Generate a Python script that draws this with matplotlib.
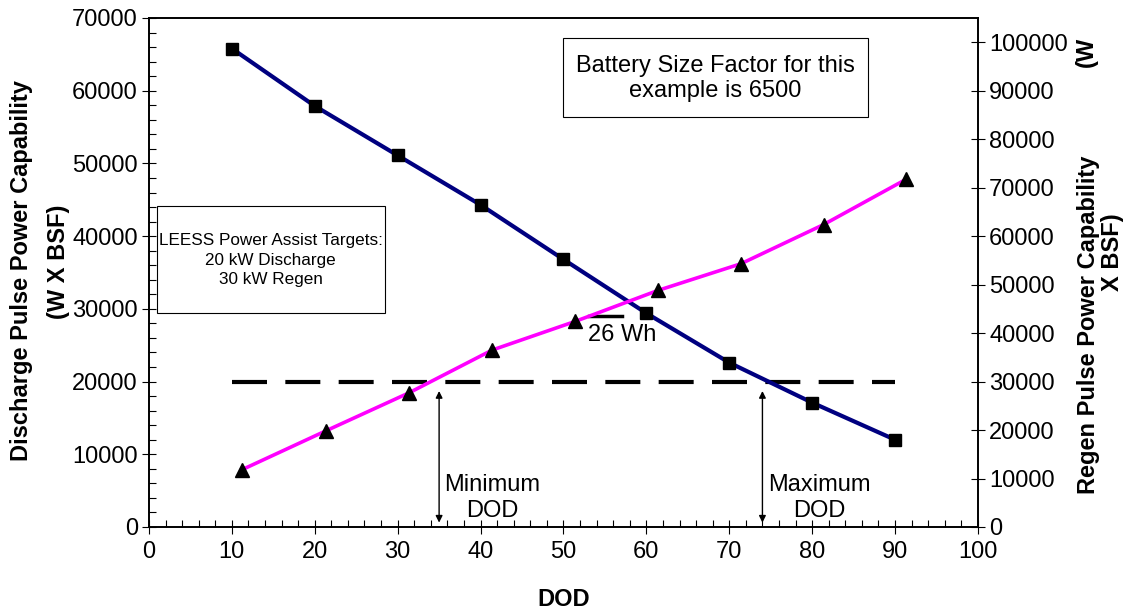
import matplotlib.pyplot as plt
from matplotlib.patches import Rectangle
from matplotlib.ticker import MultipleLocator

plt.rcParams['font.family'] = ['Liberation Sans', 'DejaVu Sans']

# discharge capability (left axis), measured every 10% DOD
dod_dis = [10, 20, 30, 40, 50, 60, 70, 80, 90]
p_dis = [65800, 57900, 51100, 44300, 36800, 29400, 22600, 17100, 12000]

# regen capability (right axis)
dod_reg = [11.2, 21.3, 31.4, 41.4, 51.4, 61.4, 71.4, 81.4, 91.3]
p_reg = [11800, 19800, 27700, 36500, 42400, 48800, 54300, 62400, 71700]

# power assist targets (20 kW discharge on left = 30 kW regen on right)
target_dis = 20000
target_span = [10, 90]
min_dod = 35
max_dod = 74

FS = 17

fig = plt.figure(figsize=(11.31, 6.12), dpi=100)
ax = fig.add_axes([0.1317, 0.1389, 0.8647 - 0.1317, 0.9706 - 0.1389])
ax2 = ax.twinx()

ax.set_xlim(0, 100)
ax.set_ylim(0, 70000)
ax2.set_ylim(0, 105000)

ax.plot(dod_dis, p_dis, color='#000080', lw=3, marker='s', ms=9,
        mfc='black', mec='black', zorder=3)
ax2.plot(dod_reg, p_reg, color='#ff00ff', lw=2.6, marker='^', ms=10,
         mfc='black', mec='black', zorder=3)

ax.plot(target_span, [target_dis, target_dis], color='black', lw=3,
        linestyle=(0, (8.4, 4.4)), zorder=2)

# 26 Wh window marker
ax.plot([53.1, 57.1], [29000, 29000], color='black', lw=2.5, zorder=4)
ax.text(53.0, 27900, '26 Wh', fontsize=FS, ha='left', va='top', zorder=5)

# min / max DOD arrows
for xd, lab, tx in [(min_dod, 'Minimum\nDOD', 41.4), (max_dod, 'Maximum\nDOD', 80.9)]:
    ax.annotate('', xy=(xd, 600), xytext=(xd, 18700),
                arrowprops=dict(arrowstyle='<|-|>', color='black', lw=1,
                                mutation_scale=10, shrinkA=0, shrinkB=0))
    ax.text(tx, 4000, lab, fontsize=FS, ha='center', va='center',
            linespacing=1.2)

# text boxes
ax.add_patch(Rectangle((49.9, 56400), 36.8, 10900, fill=False, lw=0.8,
                       edgecolor='black', zorder=5))
ax.text(68.3, 61700, 'Battery Size Factor for this\nexample is 6500',
        fontsize=FS, ha='center', va='center', linespacing=1.2, zorder=6)
ax.add_patch(Rectangle((1.0, 29400), 27.5, 14800, facecolor='white', lw=0.8,
                       edgecolor='black', zorder=5))
ax.text(14.7, 36700, 'LEESS Power Assist Targets:\n20 kW Discharge\n30 kW Regen',
        fontsize=12.3, ha='center', va='center', linespacing=1.4, zorder=6)

# ticks
ax.xaxis.set_major_locator(MultipleLocator(10))
ax.xaxis.set_minor_locator(MultipleLocator(2))
ax.yaxis.set_major_locator(MultipleLocator(10000))
ax.yaxis.set_minor_locator(MultipleLocator(2000))
ax2.set_yticks(range(0, 100001, 10000))
ax.tick_params(which='major', direction='inout', length=10, width=0.8,
               labelsize=FS, pad=3)
ax.tick_params(which='minor', direction='in', length=5, width=0.8)
ax.tick_params(axis='x', which='major', pad=5)
ax2.tick_params(which='major', direction='inout', length=10, width=0.8,
                labelsize=FS, pad=3)
for a in (ax, ax2):
    for s in a.spines.values():
        s.set_linewidth(1.2)

ax.set_xlabel('DOD', fontsize=FS, fontweight='bold', labelpad=18)

# axis titles
fig.text(22 / 1131, 1 - 271 / 612, 'Discharge Pulse Power Capability',
         rotation=90, fontsize=FS, fontweight='bold', ha='center', va='center')
fig.text(58 / 1131, 1 - 262 / 612, '(W X BSF)',
         rotation=90, fontsize=FS, fontweight='bold', ha='center', va='center')
fig.text(1089 / 1131, 1 - 325 / 612, 'Regen Pulse Power Capability',
         rotation=90, fontsize=FS, fontweight='bold', ha='center', va='center')
fig.text(1086 / 1131, 1 - 52 / 612, '(W',
         rotation=90, fontsize=FS, fontweight='bold', ha='center', va='center')
fig.text(1113 / 1131, 1 - 252 / 612, 'X BSF)',
         rotation=90, fontsize=FS, fontweight='bold', ha='center', va='center')

fig.savefig('out.png', dpi=100)
